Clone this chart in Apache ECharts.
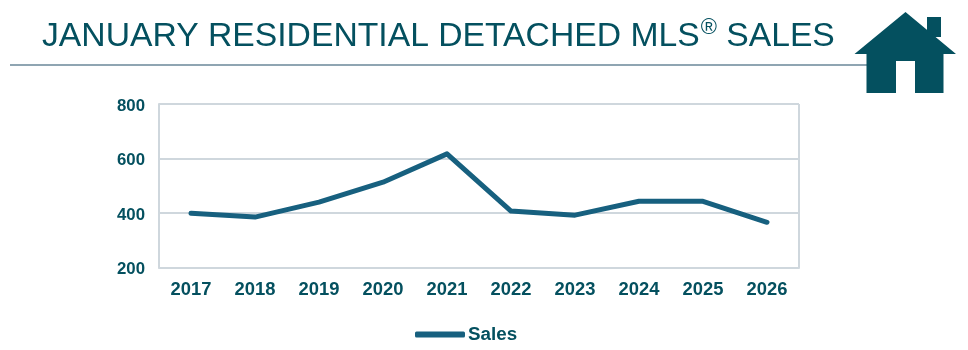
<!DOCTYPE html>
<html>
<head>
<meta charset="utf-8">
<style>
    html, body { margin: 0; padding: 0; background: #fff; }
    #salesChart { width: 968px; height: 350px; }
</style>
<script src="https://cdn.jsdelivr.net/npm/echarts@6/dist/echarts.min.js"></script>
</head>
<body>
<div id="salesChart"></div>
<script>
const years = ["2017", "2018", "2019", "2020", "2021", "2022", "2023", "2024", "2025", "2026"];
const sales = [399, 385, 440, 513, 617, 407, 392, 443, 443, 366];
const yTicks = { min: 200, max: 800, interval: 200 };

const darkTeal = "#04505f";
const lineBlue = "#17607f";
const gridGrey = "#cfd7dd";
const font = "'Liberation Sans', Arial, sans-serif";

const chart = echarts.init(document.getElementById("salesChart"), null, { renderer: "canvas" });
chart.setOption({
    animation: false,
    backgroundColor: "#fff",
    title: {
        left: 37,
        top: 9,
        text: "{a|JANUARY RESIDENTIAL DETACHED MLS}{s|®}{a| SALES}",
        textStyle: {
            fontWeight: "normal",
            rich: {
                a: { fontFamily: font, fontSize: 33.7, fontWeight: "normal", color: darkTeal, verticalAlign: "bottom", lineHeight: 40 },
                s: { fontFamily: font, fontSize: 22, fontWeight: "normal", color: darkTeal, verticalAlign: "top", lineHeight: 40, padding: [3, 0, 0, 1] }
            }
        }
    },
    grid: { left: 159, right: 169, top: 104, height: 163.5, containLabel: false },
    legend: {
        data: ["Sales"],
        bottom: 1,
        left: 410,
        itemWidth: 50,
        itemHeight: 6,
        itemGap: 0,
        icon: "roundRect",
        textStyle: { fontFamily: font, fontSize: 18.8, fontWeight: "bold", color: darkTeal, padding: [0, 0, 0, -2] }
    },
    xAxis: {
        type: "category",
        data: years,
        boundaryGap: true,
        axisTick: { show: false },
        axisLine: { lineStyle: { color: gridGrey, width: 2 } },
        axisLabel: { fontFamily: font, fontSize: 18.4, fontWeight: "bold", color: darkTeal, margin: 13 }
    },
    yAxis: {
        type: "value",
        min: yTicks.min,
        max: yTicks.max,
        interval: yTicks.interval,
        axisTick: { show: false },
        axisLine: { show: true, lineStyle: { color: gridGrey, width: 2 } },
        splitLine: { lineStyle: { color: gridGrey, width: 2 } },
        axisLabel: {
            fontFamily: font, fontSize: 16.8, fontWeight: "bold", color: darkTeal, margin: 14,
            formatter: "{v|{value}}",
            rich: { v: { fontFamily: font, fontSize: 16.8, fontWeight: "bold", color: darkTeal, padding: [4, 0, 0, 0] } }
        }
    },
    series: [{
        name: "Sales",
        type: "line",
        data: sales,
        symbol: "none",
        lineStyle: { color: lineBlue, width: 5, cap: "round", join: "round" },
        itemStyle: { color: lineBlue }
    }],
    graphic: [
        // right edge of the plot frame
        { type: "line", shape: { x1: 799, y1: 104, x2: 799, y2: 268 }, style: { stroke: gridGrey, lineWidth: 2 } },
        // rule under the title
        { type: "line", shape: { x1: 10, y1: 65, x2: 868, y2: 65 }, style: { stroke: "#8fa5b2", lineWidth: 2 } },
        // house icon
        { type: "polygon", shape: { points: [[927, 17], [941, 17], [941, 37], [927, 37]] }, style: { fill: darkTeal } },
        { type: "polygon", shape: { points: [[905.5, 12], [956, 54], [943.5, 54], [943.5, 93], [866.5, 93], [866.5, 54], [854.5, 54]] }, style: { fill: darkTeal } },
        { type: "rect", shape: { x: 896, y: 61, width: 19, height: 32 }, style: { fill: "#fff" } }
    ]
});
</script>
</body>
</html>
